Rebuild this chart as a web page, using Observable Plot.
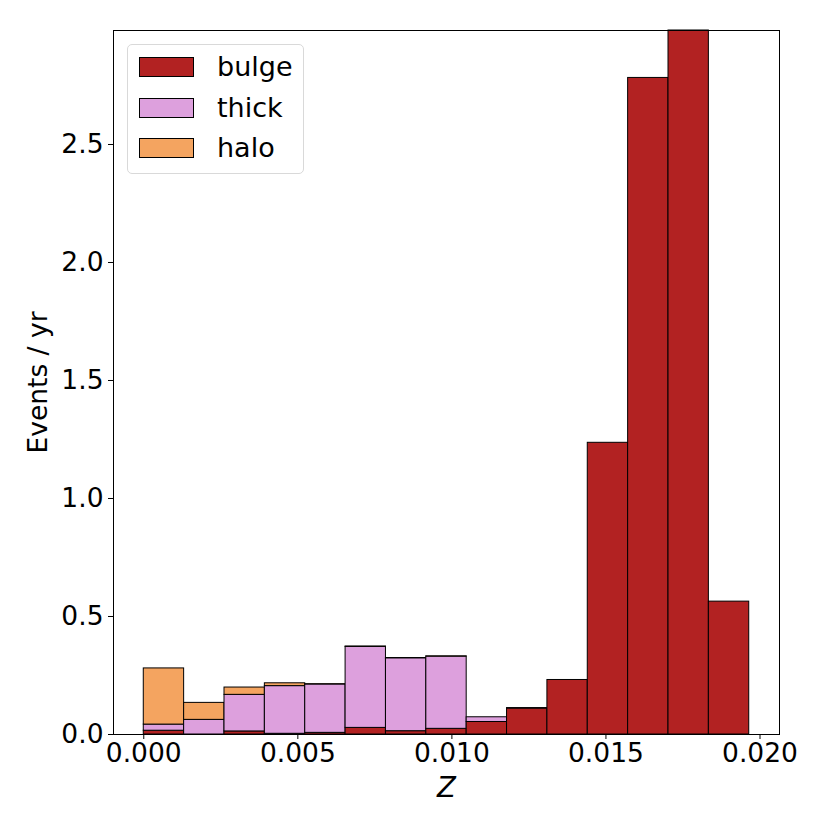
<!DOCTYPE html>
<html>
<head>
<meta charset="utf-8">
<script src="https://cdn.jsdelivr.net/npm/d3@7"></script>
<script src="https://cdn.jsdelivr.net/npm/@observablehq/plot@0.6"></script>
<style>
  html, body { margin: 0; padding: 0; background: #fff; }
  #wrap { position: relative; width: 830px; height: 830px; font-family: "DejaVu Sans", sans-serif; }
  #legend { position: absolute; left: 127px; top: 44px; width: 177px; height: 130px;
    border: 1px solid #d9d9d9; border-radius: 5px; background: rgba(255,255,255,0.8); box-sizing: border-box; }
  .item { position: absolute; left: 11px; height: 20px; display: flex; align-items: center; }
  .sw { width: 55px; height: 20px; border: 1px solid #000; box-sizing: border-box; }
  .lab { margin-left: 23px; font-size: 27px; color: #000; line-height: 20px; }
</style>
</head>
<body>
<div id="wrap"></div>
<script>
// Bin layout (histogram of Z)
const binWidth = 0.00131;
const nBins = 15;
const series = ["bulge", "thick", "halo"];
const colors = ["#b22222", "#dda0dd", "#f4a460"];
// per-bin contributions (Events / yr), stacked bulge -> thick -> halo
const bulge = [0.016, 0.000, 0.013, 0.003, 0.007, 0.028, 0.014, 0.024, 0.053, 0.110, 0.231, 1.236, 2.782, 2.983, 0.563];
const thick = [0.026, 0.062, 0.155, 0.202, 0.205, 0.343, 0.309, 0.306, 0.020, 0.002, 0.000, 0.000, 0.000, 0.000, 0.000];
const halo  = [0.238, 0.072, 0.031, 0.012, 0.001, 0.002, 0.001, 0.001, 0.000, 0.000, 0.000, 0.000, 0.000, 0.000, 0.000];
const xTicks = [0, 0.005, 0.010, 0.015, 0.020];
const yTicks = [0, 0.5, 1.0, 1.5, 2.0, 2.5];

const values = [bulge, thick, halo];
const rows = [];
for (let i = 0; i < nBins; i++) {
  let base = 0;
  values.forEach((arr, s) => {
    const v = arr[i];
    if (v > 0) rows.push({x1: i * binWidth, x2: (i + 1) * binWidth, y1: base, y2: base + v, s: series[s]});
    base += v;
  });
}
const xmax = nBins * binWidth;
const pad = 0.05 * xmax;
const ymax = d3.max(d3.range(nBins), i => bulge[i] + thick[i] + halo[i]);

const chart = Plot.plot({
  width: 830,
  height: 830,
  marginLeft: 113,
  marginRight: 51,
  marginTop: 30,
  marginBottom: 96,
  style: {fontFamily: "DejaVu Sans, sans-serif", fontSize: "26.5px", color: "#000", background: "#fff"},
  x: {domain: [-pad, xmax + pad]},
  y: {domain: [0, ymax]},
  color: {domain: series, range: colors},
  marks: [
    Plot.rect(rows, {x1: "x1", x2: "x2", y1: "y1", y2: "y2", fill: "s", stroke: "#000", strokeWidth: 1}),
    Plot.frame({stroke: "#000", strokeWidth: 1}),
    Plot.axisX({ticks: xTicks, tickFormat: d3.format(".3f"), tickSize: 5, tickPadding: 4, fontSize: 26.5,
      label: "Z", labelAnchor: "center", labelArrow: "none", labelOffset: 62}),
    Plot.axisY({ticks: yTicks, tickFormat: d3.format(".1f"), tickSize: 5, tickPadding: 5, fontSize: 26.5,
      label: "Events / yr", labelAnchor: "center", labelArrow: "none", labelOffset: 85})
  ]
});
document.getElementById("wrap").appendChild(chart);

// axis label styling: italic Z
chart.querySelectorAll("g[aria-label='x-axis label'] text").forEach(t => {
  t.setAttribute("font-style", "italic");
  t.setAttribute("font-size", "27.5");
});

const leg = document.createElement("div");
leg.id = "legend";
series.forEach((s, i) => {
  const it = document.createElement("div");
  it.className = "item";
  it.style.top = (12 + i * 40.5) + "px";
  it.innerHTML = `<div class="sw" style="background:${colors[i]}"></div><div class="lab">${s}</div>`;
  leg.appendChild(it);
});
document.getElementById("wrap").appendChild(leg);
</script>
</body>
</html>
